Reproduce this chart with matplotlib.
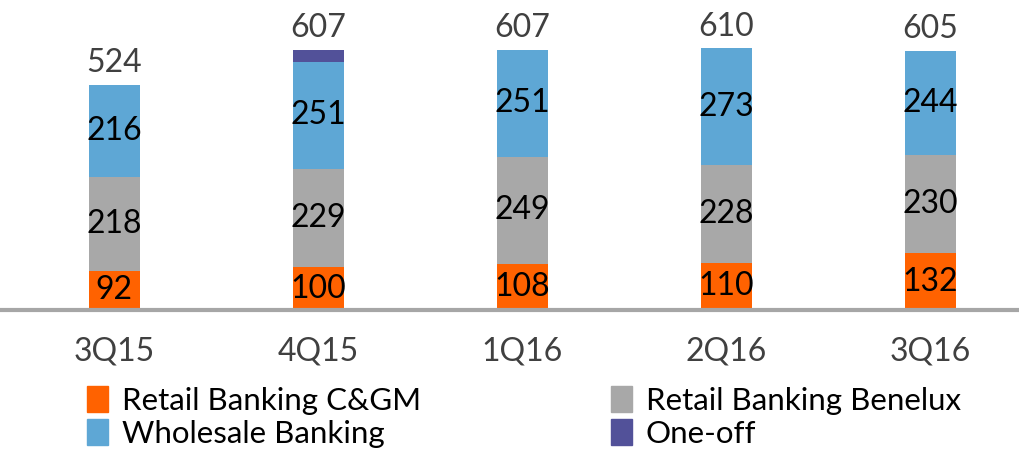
import numpy as np
import matplotlib.pyplot as plt
from matplotlib.patches import Patch

plt.rcParams['font.family'] = ['Lato', 'DejaVu Sans']

quarters = ['3Q15', '4Q15', '1Q16', '2Q16', '3Q16']
retail_cgm = [92, 100, 108, 110, 132]
retail_benelux = [218, 229, 249, 228, 230]
wholesale = [216, 251, 251, 273, 244]
one_off = [0, 27, 0, 0, 0]
totals = [524, 607, 607, 610, 605]

series_names = ['Retail Banking C&GM', 'Retail Banking Benelux', 'Wholesale Banking', 'One-off']
colors = ['#FF6200', '#A8A8A8', '#5EA7D5', '#525199']

fig = plt.figure(figsize=(10.2, 4.51), dpi=100)
ax = fig.add_axes([0, 0.3126, 1, 0.6874])

x = np.arange(len(quarters))
width = 0.25
bottom = np.zeros(len(quarters))
for vals, col in zip([retail_cgm, retail_benelux, wholesale, one_off], colors):
    vals = np.array(vals)
    ax.bar(x, vals, width, bottom=bottom, color=col)
    if col != colors[3]:
        for xi, b, v in zip(x, bottom, vals):
            ax.text(xi, b + v / 2, str(v), ha='center', va='center', fontsize=23, color='black')
    bottom += vals

# totals above the bars
for xi, top, t in zip(x, bottom, totals):
    ax.text(xi, top + 16, str(t), ha='center', va='bottom', fontsize=23, color='#404040')

ax.set_xlim(-0.56, 4.44)
ax.set_ylim(0, 724)
ax.set_yticks([])
ax.set_xticks(x)
ax.set_xticklabels(quarters, fontsize=23, color='#404040')
ax.tick_params(axis='x', length=0, pad=19)
for s in ['top', 'right', 'left']:
    ax.spines[s].set_visible(False)
ax.spines['bottom'].set_color('#A6A6A6')
ax.spines['bottom'].set_linewidth(3)

handles = [Patch(color=c) for c in colors]
order = [0, 2, 1, 3]
fig.legend([handles[i] for i in order], [series_names[i] for i in order],
           ncol=2, loc='lower left', bbox_to_anchor=(0.058, -0.055),
           frameon=False, fontsize=22.5, handlelength=0.65, handleheight=0.9,
           handletextpad=0.45, columnspacing=6.1, labelspacing=0.12)

fig.savefig('out.png', dpi=100)
